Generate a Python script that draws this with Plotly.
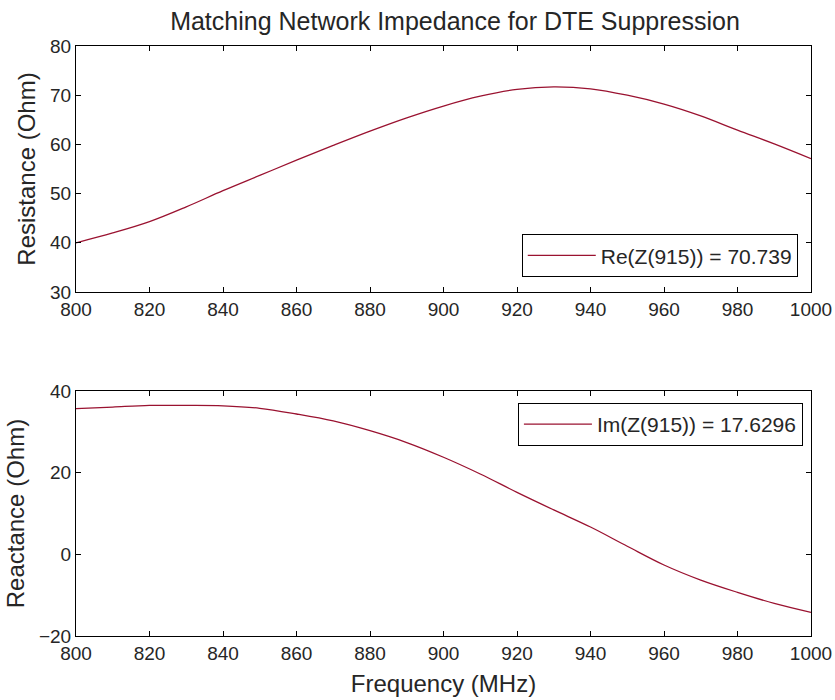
import plotly.graph_objects as go
from plotly.subplots import make_subplots

freq = [800, 810, 820, 830, 840, 850, 860, 870, 880, 890, 900,
        910, 920, 930, 940, 950, 960, 970, 980, 990, 1000]
resistance = [40.0, 42.0, 44.3, 47.3, 50.6, 53.7, 56.8, 59.8, 62.7, 65.4, 67.8,
              69.8, 71.2, 71.7, 71.3, 70.0, 68.2, 65.8, 62.9, 60.1, 57.1]
reactance = [35.7, 36.1, 36.5, 36.5, 36.4, 35.8, 34.4, 32.7, 30.3, 27.4, 23.8,
             19.7, 15.2, 10.9, 6.7, 2.0, -2.6, -6.3, -9.3, -12.0, -14.2]
re_label = "Re(Z(915)) = 70.739"
im_label = "Im(Z(915)) = 17.6296"
x_ticks = [800, 820, 840, 860, 880, 900, 920, 940, 960, 980, 1000]
y1_ticks = [30, 40, 50, 60, 70, 80]
y2_ticks = [-20, 0, 20, 40]

FONT = "Liberation Sans, Arial, sans-serif"
TXT = "#262626"
LINE_COLOR = "#9a1230"

fig = make_subplots(rows=2, cols=1)
fig.add_trace(go.Scatter(x=freq, y=resistance, mode="lines", name=re_label,
                         line=dict(color=LINE_COLOR, width=1.3, shape="spline"),
                         legend="legend"), row=1, col=1)
fig.add_trace(go.Scatter(x=freq, y=reactance, mode="lines", name=im_label,
                         line=dict(color=LINE_COLOR, width=1.3, shape="spline"),
                         legend="legend2"), row=2, col=1)

axis_common = dict(showline=True, mirror="ticks", linecolor="black", linewidth=1,
                   ticks="inside", ticklen=5, tickcolor="black", tickwidth=1,
                   showgrid=False, zeroline=False, automargin=False,
                   tickfont=dict(family=FONT, size=19, color=TXT))

fig.update_xaxes(range=[800, 1000], tickvals=x_ticks, domain=[0, 1], **axis_common)
fig.update_yaxes(**axis_common)
fig.update_yaxes(range=[30, 80], tickvals=y1_ticks, domain=[0.583, 1.0],
                 title=dict(text="Resistance (Ohm)", font=dict(family=FONT, size=24, color=TXT), standoff=7),
                 row=1, col=1)
fig.update_yaxes(range=[-20, 40], tickvals=y2_ticks, domain=[0.0, 0.415],
                 title=dict(text="Reactance (Ohm)", font=dict(family=FONT, size=24, color=TXT), standoff=7),
                 row=2, col=1)
fig.update_xaxes(title=dict(text="Frequency (MHz)", font=dict(family=FONT, size=24, color=TXT), standoff=12),
                 row=2, col=1)

legend_common = dict(bgcolor="white", bordercolor="black", borderwidth=1,
                     font=dict(family=FONT, size=21, color=TXT),
                     itemwidth=68)

W, H = 835, 700
fig.update_layout(
    width=W, height=H,
    margin=dict(l=76, r=24, t=46, b=64),
    paper_bgcolor="white", plot_bgcolor="white",
    title=dict(text="Matching Network Impedance for DTE Suppression",
               font=dict(family=FONT, size=25, color=TXT),
               x=(455 - 76) / 735, xref="paper", xanchor="center",
               y=1 - 21 / H, yref="container", yanchor="middle"),
    legend=dict(x=0.982, y=0.608, xanchor="right", yanchor="bottom", **legend_common),
    legend2=dict(x=0.989, y=0.395, xanchor="right", yanchor="top", **legend_common),
    showlegend=True,
)

fig.write_html("out.html", config={"displayModeBar": False},
               post_script="document.body.style.margin='0px';")
